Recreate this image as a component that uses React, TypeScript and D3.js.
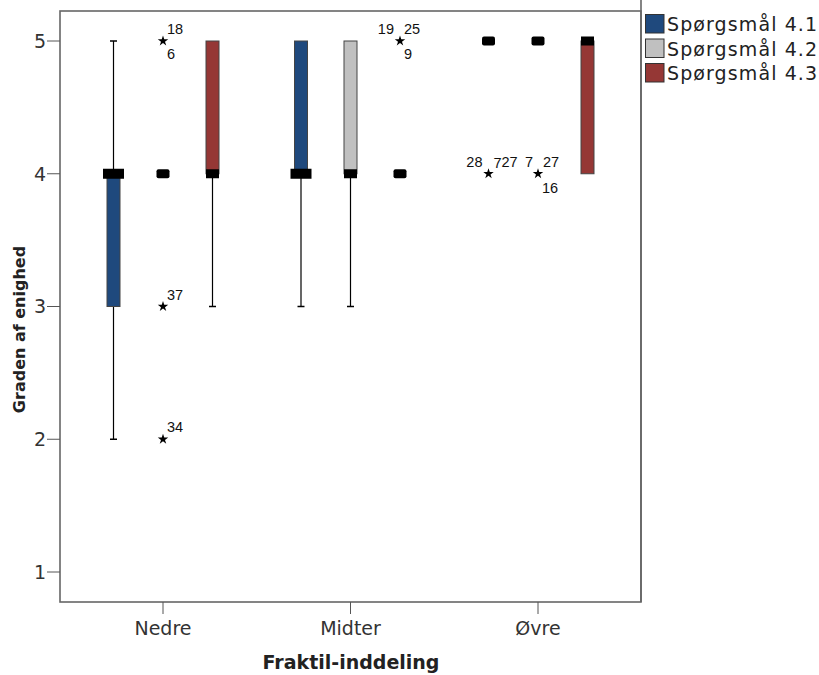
import React from "react";
import * as d3 from "d3";

const width = 819;
const height = 675;

// frame of the plot area
const frame = { left: 60, top: 11, right: 641, bottom: 602 };

const categories = ["Nedre", "Midter", "Øvre"];
const series = ["Spørgsmål 4.1", "Spørgsmål 4.2", "Spørgsmål 4.3"];
const colors = ["#1f497d", "#c0c0c0", "#953735"];
const yTicks = [1, 2, 3, 4, 5];

// [min, q1, median, q3, max] per category, per series
const nedreStats = [
  [2, 3, 4, 4, 5],
  [4, 4, 4, 4, 4],
  [3, 4, 4, 5, 5],
];
const midterStats = [
  [3, 4, 4, 5, 5],
  [3, 4, 4, 5, 5],
  [4, 4, 4, 4, 4],
];
const ovreStats = [
  [5, 5, 5, 5, 5],
  [5, 5, 5, 5, 5],
  [4, 4, 5, 5, 5],
];
const stats = [nedreStats, midterStats, ovreStats];

// extreme values: category, series, value, case labels [text, dx, dy, anchor]
const extremes = [
  { cat: 0, ser: 1, value: 5, labels: [["18", 4, -7, "start"], ["6", 4, 18, "start"]] },
  { cat: 0, ser: 1, value: 3, labels: [["37", 4, -7, "start"]] },
  { cat: 0, ser: 1, value: 2, labels: [["34", 4, -7, "start"]] },
  { cat: 1, ser: 2, value: 5, labels: [["19", -6, -7, "end"], ["25", 4, -7, "start"], ["9", 4, 18, "start"]] },
  { cat: 2, ser: 0, value: 4, labels: [["28", -6, -7, "end"], ["7", 5, -6, "start"], ["27", 13, -7, "start"]] },
  { cat: 2, ser: 1, value: 4, labels: [["7", -5, -7, "end"], ["27", 5, -7, "start"], ["16", 4, 19, "start"]] },
];

const x = d3.scalePoint<string>().domain(categories).range([163, 538]);
const xInner = d3.scalePoint<string>().domain(series).range([-49.5, 49.5]);
const y = d3.scaleLinear().domain([1, 5]).range([572, 41]);

const boxW = 13;
const star = d3.symbol().type(d3.symbolStar).size(34)();

const App = () => {
  const boxes = [];
  categories.forEach((c, ci) => {
    series.forEach((s, si) => {
      const [mn, q1, med, q3, mx] = stats[ci][si];
      const cx = x(c)! + xInner(s)!;
      const degenerate = q1 === q3;
      const wideMedian = si === 0 && !degenerate;
      const mw = wideMedian ? 21 : boxW;
      const mh = wideMedian ? 10 : 9;
      boxes.push(
        <g key={c + s}>
          {mn < q1 && (
            <>
              <line x1={cx} x2={cx} y1={y(q1)} y2={y(mn)} stroke="#000" strokeWidth={1.2} />
              <line x1={cx - 3.5} x2={cx + 3.5} y1={y(mn)} y2={y(mn)} stroke="#000" strokeWidth={1.5} />
            </>
          )}
          {mx > q3 && (
            <>
              <line x1={cx} x2={cx} y1={y(q3)} y2={y(mx)} stroke="#000" strokeWidth={1.2} />
              <line x1={cx - 3.5} x2={cx + 3.5} y1={y(mx)} y2={y(mx)} stroke="#000" strokeWidth={1.5} />
            </>
          )}
          {!degenerate && (
            <rect
              x={cx - boxW / 2}
              y={y(q3)}
              width={boxW}
              height={y(q1) - y(q3)}
              fill={colors[si]}
              stroke="#444"
              strokeWidth={1}
            />
          )}
          <rect
            x={cx - mw / 2}
            y={y(med) - mh / 2}
            width={mw}
            height={mh}
            rx={degenerate ? 2 : 0}
            fill="#000"
          />
        </g>
      );
    });
  });

  return (
    <div style={{ position: "absolute", left: 0, top: 0 }}>
      <svg width={width} height={height} style={{ display: "block", background: "#fff" }}>
        {/* frame */}
        <rect
          x={frame.left}
          y={frame.top}
          width={frame.right - frame.left}
          height={frame.bottom - frame.top}
          fill="none"
          stroke="#666"
          strokeWidth={1.6}
        />
        <line x1={frame.right} x2={frame.right} y1={0} y2={frame.bottom} stroke="#666" strokeWidth={1.6} />

        {/* y axis */}
        {yTicks.map((t) => (
          <g key={t}>
            <line x1={frame.left - 13} x2={frame.left} y1={y(t)} y2={y(t)} stroke="#555" />
            <text
              x={frame.left - 14}
              y={y(t)}
              dy="0.36em"
              textAnchor="end"
              fontFamily="DejaVu Sans"
              fontSize={19}
              fill="#333"
            >
              {t}
            </text>
          </g>
        ))}
        <text
          transform={`translate(25,${(frame.top + frame.bottom) / 2 + 23}) rotate(-90)`}
          textAnchor="middle"
          fontFamily="DejaVu Sans"
          fontWeight="bold"
          fontSize={16}
          fill="#222"
        >
          Graden af enighed
        </text>

        {/* x axis */}
        {categories.map((c) => (
          <g key={c}>
            <line x1={x(c)} x2={x(c)} y1={frame.bottom} y2={frame.bottom + 12} stroke="#555" />
            <text
              x={x(c)}
              y={frame.bottom + 33}
              textAnchor="middle"
              fontFamily="DejaVu Sans"
              fontSize={19}
              fill="#333"
            >
              {c}
            </text>
          </g>
        ))}
        <text
          x={351}
          y={669}
          textAnchor="middle"
          fontFamily="DejaVu Sans"
          fontWeight="bold"
          fontSize={19}
          fill="#222"
        >
          Fraktil-inddeling
        </text>

        {/* boxes */}
        {boxes}

        {/* extremes */}
        {extremes.map((e, i) => {
          const sx = x(categories[e.cat])! + xInner(series[e.ser])!;
          const sy = y(e.value);
          return (
            <g key={i}>
              <path d={star} transform={`translate(${sx},${sy})`} fill="#000" />
              {e.labels.map(([t, dx, dy, anchor], j) => (
                <text
                  key={j}
                  x={sx + (dx as number)}
                  y={sy + (dy as number)}
                  textAnchor={anchor as string}
                  fontFamily="Liberation Sans"
                  fontSize={14.5}
                  fill="#111"
                >
                  {t}
                </text>
              ))}
            </g>
          );
        })}

        {/* legend */}
        {series.map((s, i) => (
          <g key={s} transform={`translate(645,${14 + i * 24.5})`}>
            <rect x={0.5} y={0.5} width={18.5} height={18.5} fill={colors[i]} stroke="#333" />
            <text x={22} y={17} fontFamily="DejaVu Sans" fontSize={19} letterSpacing={1.1} fill="#222">
              {s}
            </text>
          </g>
        ))}
      </svg>
    </div>
  );
};

export default App;
